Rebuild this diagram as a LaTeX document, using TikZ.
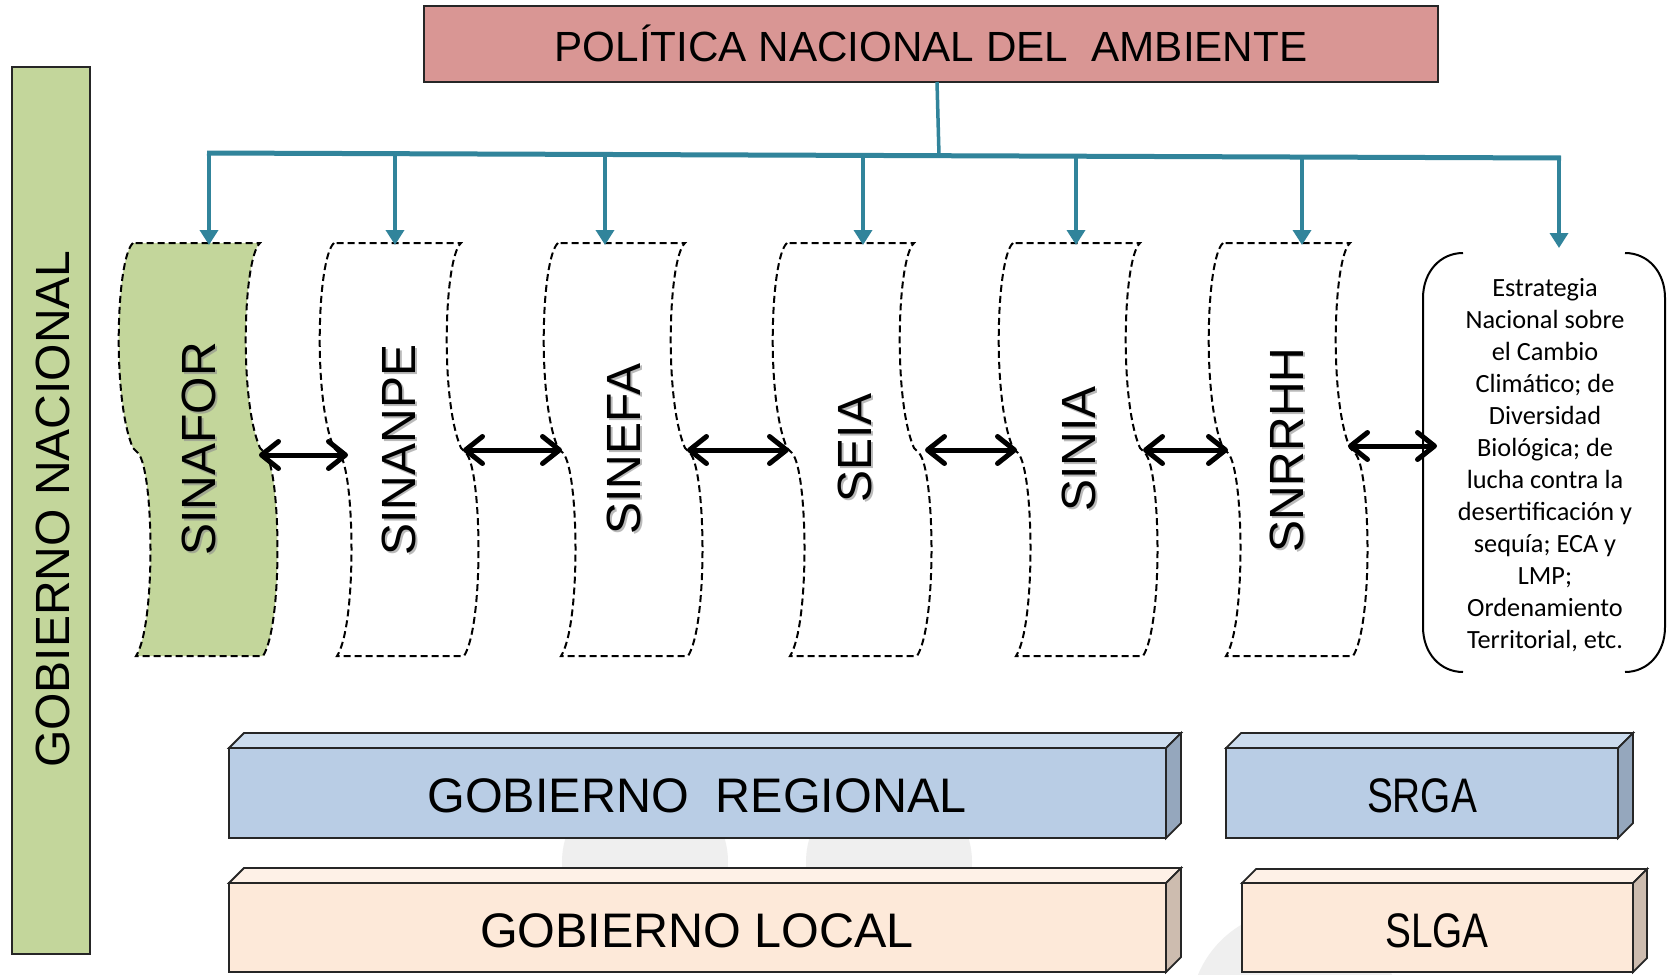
\documentclass[tikz,border=0pt]{standalone}
\usepackage{fontspec}
\usepackage{graphicx}
\setmainfont{Liberation Sans}
\newfontfamily\carlitofont{Carlito}
\usetikzlibrary{arrows.meta}
\definecolor{titlered}{HTML}{D99694}
\definecolor{gngreen}{HTML}{C3D69B}
\definecolor{pnablue}{HTML}{31849B}
\definecolor{regfront}{HTML}{B9CDE5}
\definecolor{regtop}{HTML}{CCDCEE}
\definecolor{regside}{HTML}{95A7BD}
\definecolor{locfront}{HTML}{FDE9D9}
\definecolor{loctop}{HTML}{FEF1E7}
\definecolor{locside}{HTML}{CDBCAF}
\definecolor{wmgray}{HTML}{EFEFEF}
\newcommand{\wavesh}[2]{%
  \path[#2] (#1,243) .. controls ({#1-17},258) and ({#1-21},400) .. (#1,448)
    -- ({#1+5},453) .. controls ({#1+21},470) and ({#1+23},625) .. ({#1+3},656)
    -- ({#1+130},656) .. controls ({#1+150},625) and ({#1+148},470) .. ({#1+132},453)
    -- ({#1+127},448) .. controls ({#1+106},400) and ({#1+110},258) .. ({#1+127},243) -- cycle;}
\newcommand{\prismbox}[8]{%
  \filldraw[fill=#7, pboxline] (#1,#2) -- ({#1+#5},{#2-#5}) -- ({#3+#5},{#2-#5}) -- (#3,#2) -- cycle;
  \filldraw[fill=#8, pboxline] (#3,#2) -- ({#3+#5},{#2-#5}) -- ({#3+#5},{#4-#5}) -- (#3,#4) -- cycle;
  \filldraw[fill=#6, pboxline] (#1,#2) rectangle (#3,#4);}
\newcommand{\vlabel}[3]{%
  \node[vtext, text=black!45, opacity=0.6] at ({#1+1.8},{#2+1.8}) {#3};
  \node[vtext] at (#1,#2) {#3};}
\begin{document}
\begin{tikzpicture}[x=1pt,y=-1pt,
  pboxline/.style={draw=black!85, line width=1.8pt, line join=miter},
  wav/.style={draw=black, line width=2pt, dash pattern=on 7pt off 4pt},
  bluedrop/.style={draw=pnablue, line width=3.5pt, -{Triangle[length=15pt,width=18pt]}},
  dblarrow/.style={draw=black, line width=5pt, line cap=round,
     {Straight Barb[length=17pt,width=27pt,round]}-{Straight Barb[length=17pt,width=27pt,round]}},
  btxt/.style={font=\fontsize{48.5}{58}\selectfont, inner sep=0pt},
  vtext/.style={font=\fontsize{48}{58}\selectfont, inner sep=0pt, rotate=90},
]
\useasboundingbox (0,0) rectangle (1669,974);
\fill[white] (0,0) rectangle (1669,974);

% faint watermark
\fill[wmgray] (645,862) circle[radius=83pt];
\fill[wmgray] (889,862) circle[radius=83pt];
\fill[wmgray] (1295,1015) circle[radius=105pt];

% left bar
\draw[fill=gngreen, draw=black!85, line width=1.8pt] (12,67) rectangle (90,954);
\node[vtext] (gn) at (53,509) {GOBIERNO NACIONAL};

% title
\draw[fill=titlered, draw=black!85, line width=1.8pt] (424,6) rectangle (1438,82);
\coordinate (titleS) at (937,82);
\node[anchor=base, font=\fontsize{42.2}{50}\selectfont, inner sep=0pt] (title) at (931,61) {POLÍTICA NACIONAL DEL\ \ AMBIENTE};

% bus
\coordinate (busTrunk) at (939,155.5);
\coordinate (busL) at (207,153);
\coordinate (busR) at (1561,158);
\draw[pnablue, line width=3.5pt] (titleS) -- (busTrunk);
\draw[pnablue, line width=5pt] (busL) -- (busR);
\coordinate (b1) at (209,152);
\coordinate (b2) at (395,153.7);
\coordinate (b3) at (605,154.5);
\coordinate (b4) at (863,155.4);
\coordinate (b5) at (1076,156.2);
\coordinate (b6) at (1302,157);
\coordinate (b7) at (1559,158);
\coordinate (t1) at (209,245);
\coordinate (t2) at (395,245);
\coordinate (t3) at (605,245);
\coordinate (t4) at (863,245);
\coordinate (t5) at (1076,245);
\coordinate (t6) at (1302,245);
\coordinate (t7) at (1559,248);

% wave shapes
\wavesh{133}{wav, fill=gngreen}
\wavesh{334}{wav}
\wavesh{558}{wav}
\wavesh{787}{wav}
\wavesh{1013}{wav}
\wavesh{1223}{wav}

\foreach \i in {1,...,7} {\draw[bluedrop] (b\i) -- (t\i);}

\vlabel{199}{449}{SINAFOR}
\vlabel{399}{450}{SINANPE}
\vlabel{624}{449}{SINEFA}
\vlabel{855}{448}{SEIA}
\vlabel{1079}{449}{SINIA}
\vlabel{1287}{450}{SNRRHH}

% right bracket box
\draw[line width=2pt] (1463,253) .. controls (1440,253) and (1423,272) .. (1423,298) -- (1423,627) .. controls (1423,653) and (1440,672) .. (1463,672);
\draw[line width=2pt] (1625,253) .. controls (1648,253) and (1665,272) .. (1665,298) -- (1665,627) .. controls (1665,653) and (1648,672) .. (1625,672);
\node[font=\carlitofont\fontsize{26.3}{32}\selectfont, align=center, inner sep=0pt] (estr) at (1545,465)
  {Estrategia\\Nacional sobre\\el Cambio\\Climático; de\\Diversidad\\Biológica; de\\lucha contra la\\desertificación y\\sequía; ECA y\\LMP;\\Ordenamiento\\Territorial, etc.};

% double arrows
\coordinate (a1l) at (259,455); \coordinate (a1r) at (348,455);
\coordinate (a2l) at (463,450); \coordinate (a2r) at (562,450);
\coordinate (a3l) at (687,450); \coordinate (a3r) at (789,450);
\coordinate (a4l) at (925,450); \coordinate (a4r) at (1017,450);
\coordinate (a5l) at (1143,450); \coordinate (a5r) at (1228,450);
\coordinate (a6l) at (1348,446); \coordinate (a6r) at (1437,446);
\foreach \i in {1,...,6} {\draw[dblarrow] (a\i l) -- (a\i r);}

% bottom boxes
\prismbox{229}{748}{1166}{838}{15}{regfront}{regtop}{regside}
\prismbox{1226}{748}{1618}{838}{15}{regfront}{regtop}{regside}
\prismbox{229}{883}{1166}{972}{15}{locfront}{loctop}{locside}
\prismbox{1242}{883}{1633}{972}{14}{locfront}{loctop}{locside}
\node[btxt, anchor=base] (greg) at (697,812) {GOBIERNO\ \ REGIONAL};
\node[btxt, anchor=base] (srga) at (1422,812) {\scalebox{0.8}[1]{SRGA}};
\node[btxt, anchor=base] (gloc) at (697,947) {GOBIERNO LOCAL};
\node[btxt, anchor=base] (slga) at (1437,947) {\scalebox{0.8}[1]{SLGA}};
\end{tikzpicture}
\end{document}
